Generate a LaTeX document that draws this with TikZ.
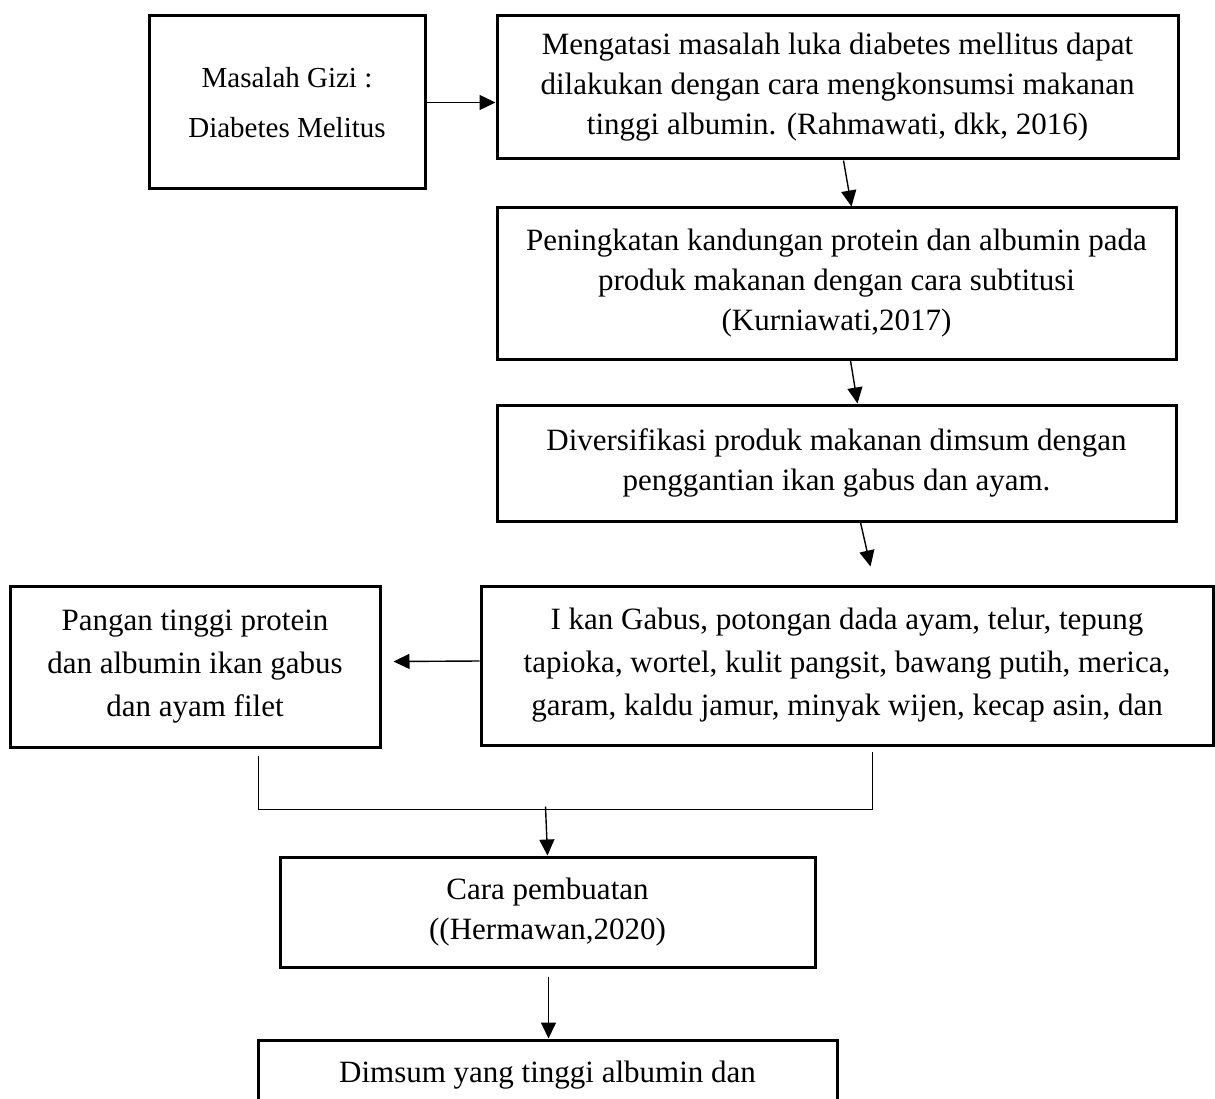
\documentclass[tikz,border=0pt]{standalone}
\usepackage{fontspec}
\setmainfont{Liberation Serif}
\usetikzlibrary{arrows.meta,calc}
\begin{document}
\begin{tikzpicture}[x=1pt,y=-1pt,
  box/.style={draw,line width=3pt,inner sep=0pt,align=center,font=\fontsize{31}{40}\selectfont},
  conn/.style={line width=1.4pt},
  arr/.style={line width=1.4pt,-{Triangle[length=16pt,width=15pt]}}]
\useasboundingbox (0,0) rectangle (1215,1099);
\node[box,minimum width=276pt,minimum height=173pt,font=\fontsize{29}{50}\selectfont] (b1) at (287,102.5) {Masalah Gizi :\\Diabetes Melitus};
\node[box,minimum width=681pt,minimum height=143pt] (b2) at (837.5,87.5) {Mengatasi masalah luka diabetes mellitus dapat\\dilakukan dengan cara mengkonsumsi makanan\\tinggi albumin. (Rahmawati, dkk, 2016)};
\node[box,minimum width=679pt,minimum height=151pt] (b3) at (836.5,283.5) {Peningkatan kandungan protein dan albumin pada\\produk makanan dengan cara subtitusi\\(Kurniawati,2017)};
\node[box,minimum width=679pt,minimum height=116pt] (b4) at (836.5,463) {Diversifikasi produk makanan dimsum dengan\\penggantian ikan gabus dan ayam.};
\node[box,minimum width=732pt,minimum height=159pt,font=\fontsize{31}{43}\selectfont] (b5) at (847,665.5) {I kan Gabus, potongan dada ayam, telur, tepung\\tapioka, wortel, kulit pangsit, bawang putih, merica,\\garam, kaldu jamur, minyak wijen, kecap asin, dan};
\node[box,minimum width=370pt,minimum height=161pt,font=\fontsize{31}{43}\selectfont] (b6) at (195,666.5) {Pangan tinggi protein\\dan albumin ikan gabus\\dan ayam filet};
\node[box,minimum width=535pt,minimum height=110pt] (b7) at (547.5,912) {Cara pembuatan\\((Hermawan,2020)};
\node[box,minimum width=579pt,minimum height=70pt] (b8) at (547.5,1075) {Dimsum yang tinggi albumin dan};
% connectors
\draw[arr] (b1.east) -- (b1.east -| b2.west);
\draw[arr] ($(b2.south west)+(348,0)$) -- ($(b3.north west)+(356,0)$);
\draw[arr] ($(b3.south west)+(355,0)$) -- ($(b4.north west)+(362,0)$);
\coordinate (t5) at ($(b5.north west)+(391,-18)$);
\draw[arr] ($(b4.south west)+(365,0)$) -- (t5);
\coordinate (t6) at ($(b6.east)+(12,-5)$);
\draw[arr] ($(b5.west)+(0,-4.5)$) -- (t6);
\coordinate (jl) at ($(b6.south west)+(250,7)$);
\coordinate (jr) at ($(b5.south west)+(393,5)$);
\coordinate (jh) at ($(b5.south west)+(393,63)$);
\draw[conn] (jl) |- (jh) -- (jr);
\coordinate (jc) at ($(b7.north west)+(267,-49)$);
\draw[arr] (jc) -- ($(b7.north west)+(269,0)$);
\coordinate (s7) at ($(b7.south west)+(270,8)$);
\draw[arr] (s7) -- (b8.north -| s7);
\end{tikzpicture}
\end{document}
